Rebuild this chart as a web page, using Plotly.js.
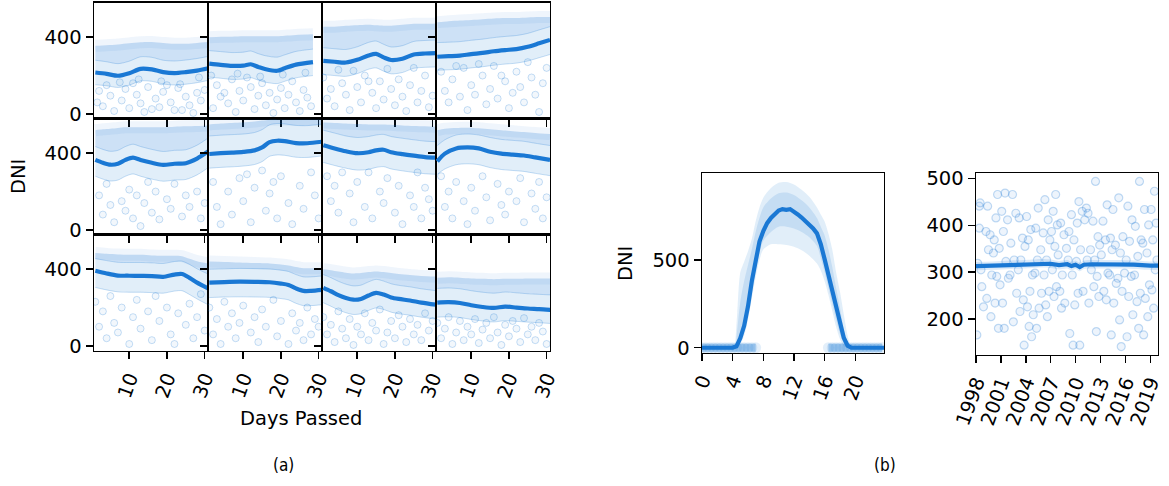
<!DOCTYPE html>
<html><head><meta charset="utf-8">
<script src="https://cdn.plot.ly/plotly-3.0.1.min.js"></script>
<style>html,body{margin:0;padding:0;background:#fff}#chart{width:1169px;height:486px}</style>
</head><body><div id="chart"></div>
<script>
// ---------- Monthly panels (a): day grid, mean, band low/high, dense-cloud top, sparse points ----------
const JAN_D=[1,4,7,10,13,16,19,22,25,28,31];
const JAN_MEAN=[216,209,199,212,235,232,218,213,218,226,238];
const JAN_LO=[152,147,138,150,172,170,156,151,155,163,175];
const JAN_HI=[280,272,262,275,298,295,280,276,281,289,300];
const JAN_TOP=[355,358,362,368,374,375,370,366,366,370,375];
const JAN_PX=[2,3,5,6,8,9,10,12,13,14,15,17,18,19,21,22,23,25,26,27,28,29,30,4,11,20,24,16,1.5,7.5,12.5,18.5,23.5,28.5];
const JAN_PY=[120,40,95,15,70,130,30,100,55,10,140,80,35,115,60,20,135,90,45,5,110,70,125,150,160,150,20,25,60,165,180,170,155,190];

const FEB_D=[1,4,7,10,12,14,16,19,21,24,28.5];
const FEB_MEAN=[262,256,251,252,259,245,233,225,238,257,270];
const FEB_LO=[192,186,180,182,189,176,165,158,170,188,200];
const FEB_HI=[330,325,320,322,328,314,303,296,308,326,338];
const FEB_TOP=[400,402,403,405,405,405,405,405,408,412,415];
const FEB_PX=[2,3,4,6,7,8,9,10,12,13,14,15,16,17,18,19,20,21,22,23,24,25,26,27,28,11,5,1.5,8.5,14.5,20.5,26.5];
const FEB_PY=[30,150,90,55,180,10,120,70,140,25,95,160,45,110,5,75,135,30,100,170,60,15,125,85,40,190,110,200,210,195,205,215];

const MAR_D=[1,4,7,10,13,15,17,19,22,25,28,31];
const MAR_MEAN=[277,272,268,282,305,313,295,281,288,310,315,317];
const MAR_LO=[205,200,196,210,233,240,223,209,216,238,243,245];
const MAR_HI=[345,340,336,350,373,380,363,349,356,378,383,385];
const MAR_TOP=[455,455,460,463,465,462,460,460,465,470,470,472];
const MAR_PX=[1,2,3,4,6,7,8,10,11,12,14,15,16,17,19,20,21,22,23,24,26,27,28,29,30,13,5,9,18,25];
const MAR_PY=[190,80,130,40,160,100,20,140,60,200,110,30,170,75,130,45,180,90,15,150,60,120,200,35,95,170,230,225,235,240];

const APR_D=[1,4,7,10,13,16,19,22,25,28,30.9];
const APR_MEAN=[298,301,304,312,318,327,333,338,350,368,386];
const APR_LO=[228,230,233,240,246,254,260,265,276,293,310];
const APR_HI=[372,374,377,384,390,398,404,409,420,438,455];
const APR_TOP=[478,483,487,490,494,498,500,500,503,505,505];
const APR_PX=[2,3,4,5,7,8,9,10,11,13,14,15,16,17,19,20,21,22,23,24,26,27,28,29,30,18,6,12,25];
const APR_PY=[220,120,60,180,90,240,20,150,100,200,50,130,250,80,170,30,110,220,140,60,190,100,10,160,240,200,250,260,270];

const MAY_D=[1,3,5,7,9,11,13,16,19,22,25,28,31];
const MAY_MEAN=[365,350,340,345,365,377,365,350,339,345,348,372,410];
const MAY_LO=[280,265,255,260,280,292,280,265,254,260,263,287,325];
const MAY_HI=[435,420,410,415,435,447,435,420,409,415,418,442,480];
const MAY_TOP=[520,525,528,532,535,535,535,535,535,538,540,542,545];
const MAY_PX=[2,3,4,5,6,8,9,10,11,12,13,14,15,16,17,18,20,21,22,24,25,26,28,29,30];
const MAY_PY=[180,80,240,130,40,150,100,210,60,180,20,140,250,90,200,55,160,110,240,70,180,120,200,60,140];

const JUN_D=[1,4,7,10,13,15,17,19,21,24,27,30.9];
const JUN_MEAN=[396,400,403,407,415,430,458,465,463,453,452,460];
const JUN_LO=[322,326,329,333,341,356,384,391,389,379,378,386];
const JUN_HI=[490,494,497,500,508,523,548,555,553,545,544,552];
const JUN_TOP=[550,555,558,560,565,570,575,575,575,575,575,575];
const JUN_PX=[2,3,4,6,7,9,10,12,13,15,16,17,19,20,22,23,25,26,28,29,30,11,18];
const JUN_PY=[250,120,30,200,80,270,150,40,220,310,100,190,60,280,140,30,230,110,300,180,60,290,250];

const JUL_D=[1,4,7,10,13,15,17,19,22,25,28,31];
const JUL_MEAN=[442,425,410,400,405,415,418,405,395,387,380,377];
const JUL_LO=[352,336,322,312,316,326,330,318,308,300,293,290];
const JUL_HI=[520,505,490,482,487,495,498,487,478,470,463,460];
const JUL_TOP=[560,558,555,552,550,550,550,548,545,542,540,538];
const JUL_PX=[2,3,4,5,6,8,9,10,12,13,14,16,17,18,20,21,22,24,25,26,27,28,29,30];
const JUL_PY=[280,150,230,90,300,190,40,250,120,300,60,200,140,270,90,230,30,180,120,300,60,220,160,100];

const AUG_D=[1,3,6,9,12,15,18,21,24,27,30.9];
const AUG_MEAN=[358,398,425,430,425,408,398,393,388,378,365];
const AUG_LO=[290,318,340,345,340,325,315,310,305,295,283];
const AUG_HI=[440,470,495,500,495,482,472,467,462,452,440];
const AUG_TOP=[520,528,532,533,530,525,520,515,510,505,500];
const AUG_PX=[2,3,4,5,6,8,9,10,11,13,14,15,17,18,19,20,22,23,24,26,27,28,29,30];
const AUG_PY=[280,120,200,60,250,150,30,220,100,280,170,50,240,130,80,200,150,270,40,190,110,250,60,170];

const SEP_D=[1,4,7,10,13,16,19,22,24,26,28,30.9];
const SEP_MEAN=[392,378,367,366,365,364,360,372,375,355,330,300];
const SEP_LO=[305,292,282,280,280,278,275,286,288,268,245,215];
const SEP_HI=[455,445,436,435,435,433,430,440,442,425,402,375];
const SEP_TOP=[485,480,477,475,475,472,470,470,468,455,442,430];
const SEP_PX=[1,2,3,4,5,6,7,8,10,11,12,13,15,16,17,18,20,21,22,23,25,26,27,28,29,30];
const SEP_PY=[230,100,180,40,260,120,70,200,10,150,240,90,180,30,260,130,200,60,10,170,110,220,40,150,270,80];

const OCT_D=[1,5,9,13,17,20,22,24,26,28,31];
const OCT_MEAN=[330,333,335,334,332,325,318,300,287,287,292];
const OCT_LO=[252,255,256,255,253,247,240,222,210,210,215];
const OCT_HI=[400,402,404,403,401,395,388,372,360,360,365];
const OCT_TOP=[440,438,435,432,430,425,420,412,405,405,405];
const OCT_PX=[1,2,3,4,5,6,7,8,9,10,12,13,14,15,16,18,19,20,22,23,24,25,26,27,28,29,30];
const OCT_PY=[200,60,140,10,230,100,170,40,120,210,70,150,20,190,100,240,50,130,10,170,80,120,30,200,60,140,100];

const NOV_D=[1,3,5,7,9,11,13,15,17,19,21,24,27,30.9];
const NOV_MEAN=[303,285,265,250,241,245,263,277,268,253,245,237,226,215];
const NOV_LO=[225,207,188,173,164,168,185,198,190,176,168,160,150,140];
const NOV_HI=[372,356,337,322,313,317,334,347,338,324,316,308,298,288];
const NOV_TOP=[400,395,388,382,378,380,385,388,385,380,375,370,365,362];
const NOV_PX=[1,2,3,4,5,6,7,8,9,10,11,12,13,14,15,16,17,18,19,20,21,22,23,24,25,26,27,28,29,30];
const NOV_PY=[150,60,110,20,180,90,40,140,5,100,60,170,30,120,80,190,10,70,130,40,160,100,20,140,60,110,30,170,80,130];

const DEC_D=[1,4,7,10,13,16,19,22,25,28,31];
const DEC_MEAN=[226,228,224,212,203,198,205,200,195,192,188];
const DEC_LO=[150,152,148,138,130,125,132,128,124,121,117];
const DEC_HI=[300,302,298,288,280,275,281,277,272,269,266];
const DEC_TOP=[355,358,356,352,350,348,350,350,352,352,352];
const DEC_PX=[1,2,3,4,5,6,7,8,9,10,11,12,13,14,15,16,17,18,19,20,21,22,23,24,25,26,27,28,29,30];
const DEC_PY=[120,40,90,150,10,70,130,30,100,60,140,15,85,120,40,150,70,5,110,50,130,90,20,145,60,100,30,120,75,10];

const MONTH_TICKS_X=[10,20,30];
const MONTH_TICKS_Y=[0,400];

// ---------- Hourly panel (b, left) ----------
const HOURS=[0,0.5,1,1.5,2,2.5,3,3.5,4,4.5,5,5.5,6,6.5,7,7.5,8,8.5,9,9.5,10,10.5,11,11.5,12,12.5,13,13.5,14,14.5,15,15.5,16,16.5,17,17.5,18,18.5,19,19.5,20,20.5,21,21.5,22,22.5,23,23.5,23.75];
const HOUR_MEAN=[0,0,0,0,0,0,0,0,0,8,55,125,235,380,510,605,665,710,740,765,782,790,786,790,778,760,742,722,705,680,652,590,505,415,330,235,140,57,12,0,0,0,0,0,0,0,0,0,0];
const HOUR_CLOUD_H=[4.3,4.6,5,5.5,6,6.5,7,7.5,8,9,10,11,12,13,14,15,15.5,16,16.5,17,17.5,18,18.5,19,19.4];
const HOUR_CLOUD_UP=[0,200,430,490,550,620,720,800,855,910,940,945,930,900,860,800,760,720,650,560,430,320,190,70,0];
const HOUR_CLOUD_LO=[0,0,20,70,160,280,400,500,560,590,590,585,575,555,525,480,440,380,300,210,120,50,10,0,0];
const HOUR_CORE_H=[4.5,5,5.5,6,6.5,7,7.5,8,9,10,11,12,13,14,15,15.5,16,16.5,17,17.5,18,18.5,19];
const HOUR_CORE_UP=[60,260,380,470,560,660,740,800,850,880,885,870,840,800,740,690,640,560,460,340,230,110,20];
const HOUR_CORE_LO=[0,30,90,190,310,440,540,610,660,690,690,680,660,630,580,510,430,340,250,160,80,25,0];
const HOUR_ZERO_AM=[0,0.5,1,1.5,2,2.5,3,3.5,4,4.5,5,5.5,6,6.5,7];
const HOUR_ZERO_PM=[16.5,17,17.5,18,18.5,19,19.5,20,20.5,21,21.5,22,22.5,23,23.5];
const HOUR_TICKS=[0,4,8,12,16,20];

// ---------- Yearly panel (b, right) ----------
const YEAR_LINE_X=[1998,2000,2002,2004,2006,2007,2008,2009,2009.5,2010,2010.5,2011,2012,2013,2015,2017,2019,2020];
const YEAR_MEAN=[313,314,316,317,319,318,315,317,313,316,311,316,317,317,317,316,314,314];
const YEAR_LO=[304,305,307,308,310,309,306,308,304,307,302,307,308,308,308,307,305,305];
const YEAR_HI=[322,323,325,326,328,327,324,326,322,325,320,325,326,326,326,325,323,323];
const YEAR_PX=[1998.5,1998.4,1998.4,1998.2,1998.6,1998.7,1998.9,1998.1,
1999.4,1999.2,1999.7,1999.5,1999.9,1999.3,1999.8,
2000.6,2000.4,2000.2,2000.8,2000.1,2000.5,2000.9,2000.3,2000.7,
2001.5,2001.1,2001.8,2001.3,2001.6,2001.9,2001.2,2001.4,
2002.4,2002.8,2002.2,2002.6,2002.1,2002.9,2002.5,
2003.2,2003.6,2003.9,2003.4,2003.1,2003.7,2003.3,2003.8,
2004.1,2004.6,2004.3,2004.8,2004.5,2004.2,2004.9,2004.4,2004.7,
2005.5,2005.2,2005.8,2005.4,2005.1,2005.9,2005.6,2005.3,
2006.3,2006.7,2006.1,2006.9,2006.5,2006.2,2006.8,2006.4,2006.6,
2007.6,2007.3,2007.8,2007.1,2007.5,2007.9,2007.2,2007.7,2007.4,
2008.2,2008.6,2008.9,2008.4,2008.1,2008.7,2008.3,
2009.5,2009.2,2009.8,2009.1,2009.6,2009.9,2009.3,2009.7,
2010.4,2010.8,2010.2,2010.6,2010.1,2010.9,2010.3,2010.5,
2011.3,2011.5,2011.1,2011.8,2011.4,2011.9,2011.6,
2012.4,2012.1,2012.7,2012.9,2012.3,2012.6,2012.2,2012.8,2012.5,
2013.8,2013.3,2013.6,2013.1,2013.9,2013.4,2013.7,
2014.5,2014.2,2014.8,2014.4,2014.1,2014.9,2014.6,2014.3,
2015.2,2015.7,2015.4,2015.9,2015.1,2015.6,2015.3,2015.5,
2016.3,2016.8,2016.5,2016.1,2016.7,2016.4,2016.9,2016.2,
2017.7,2017.2,2017.9,2017.5,2017.1,2017.8,2017.4,2017.6,
2018.3,2018.8,2018.1,2018.6,2018.9,2018.4,2018.7,2018.2,
2019.5,2019.1,2019.7,2019.3,2019.8,2019.6,2019.2,2019.4];
const YEAR_PY=[448,441,394,319,305,269,226,166,
441,387,380,348,294,244,205,
466,416,369,351,341,291,273,234,180,
469,430,412,387,323,287,234,180,
466,426,362,326,294,255,194,
416,373,355,326,305,241,216,144,
419,391,369,294,259,226,209,184,162,
437,394,348,326,298,255,223,180,
455,412,384,369,326,294,259,230,205,
466,430,401,387,355,337,305,269,248,
405,380,351,294,259,234,223,
423,387,369,326,294,230,169,144,
451,430,405,348,323,259,255,144,
437,426,412,348,326,305,234,
494,409,376,358,326,291,269,248,173,
444,409,369,337,298,259,241,
434,373,358,348,294,276,234,166,
459,376,341,298,287,259,198,141,
441,412,366,326,291,248,209,162,
494,398,369,334,294,255,237,180,
434,401,362,341,273,244,205,166,
473,434,405,369,326,305,262,223];
const YEAR_TICKS=[1998,2001,2004,2007,2010,2013,2016,2019];

// ---------- build ----------
const MONTHS=[
 [JAN_D,JAN_MEAN,JAN_LO,JAN_HI,JAN_TOP,JAN_PX,JAN_PY],
 [FEB_D,FEB_MEAN,FEB_LO,FEB_HI,FEB_TOP,FEB_PX,FEB_PY],
 [MAR_D,MAR_MEAN,MAR_LO,MAR_HI,MAR_TOP,MAR_PX,MAR_PY],
 [APR_D,APR_MEAN,APR_LO,APR_HI,APR_TOP,APR_PX,APR_PY],
 [MAY_D,MAY_MEAN,MAY_LO,MAY_HI,MAY_TOP,MAY_PX,MAY_PY],
 [JUN_D,JUN_MEAN,JUN_LO,JUN_HI,JUN_TOP,JUN_PX,JUN_PY],
 [JUL_D,JUL_MEAN,JUL_LO,JUL_HI,JUL_TOP,JUL_PX,JUL_PY],
 [AUG_D,AUG_MEAN,AUG_LO,AUG_HI,AUG_TOP,AUG_PX,AUG_PY],
 [SEP_D,SEP_MEAN,SEP_LO,SEP_HI,SEP_TOP,SEP_PX,SEP_PY],
 [OCT_D,OCT_MEAN,OCT_LO,OCT_HI,OCT_TOP,OCT_PX,OCT_PY],
 [NOV_D,NOV_MEAN,NOV_LO,NOV_HI,NOV_TOP,NOV_PX,NOV_PY],
 [DEC_D,DEC_MEAN,DEC_LO,DEC_HI,DEC_TOP,DEC_PX,DEC_PY]
];

const W=1169,H=486;
const BLUE='#1a78d4';
const RG=a=>'rgba(26,120,212,'+a+')';
const FONT={family:'DejaVu Sans, Liberation Sans, sans-serif',size:19.5,color:'#000'};
const px=v=>v/W, py=v=>1-v/H;

const traces=[];
const layout={width:W,height:H,margin:{l:0,r:0,t:0,b:0},showlegend:false,
  paper_bgcolor:'#fff',plot_bgcolor:'#fff',font:FONT,annotations:[]};

function axis(dom,range,tickvals,showlabels,extra){
  return Object.assign({domain:dom,range:range,tickvals:tickvals,showticklabels:showlabels,
    ticks:'outside',ticklen:7,tickwidth:1.5,tickcolor:'#000',showline:true,linecolor:'#000',
    linewidth:1.4,mirror:true,showgrid:false,zeroline:false,tickfont:FONT,fixedrange:true,automargin:false},extra||{});
}
function addBand(xa,ya,xs,lo,hi,fill,edge){
  traces.push({x:xs,y:lo,xaxis:xa,yaxis:ya,mode:'lines',line:{width:edge?1:0,color:edge||'rgba(0,0,0,0)',shape:'spline',smoothing:0.8},hoverinfo:'skip'});
  traces.push({x:xs,y:hi,xaxis:xa,yaxis:ya,mode:'lines',fill:'tonexty',fillcolor:fill,line:{width:edge?1:0,color:edge||'rgba(0,0,0,0)',shape:'spline',smoothing:0.8},hoverinfo:'skip'});
}
const PT={size:7,color:RG(0.06),line:{color:RG(0.24),width:1}};

const colX=[94,208,322,436,550];
const rowY=[2.7,118.7,234.7,350.7];
MONTHS.forEach((m,i)=>{
  const r=Math.floor(i/4), c=i%4, n=i+1;
  const xa='x'+(n===1?'':n), ya='y'+(n===1?'':n);
  const [D,MEAN,LO,HI,TOP,PXs,PYs]=m;
  addBand(xa,ya,D,HI,TOP,RG(0.22),null);
  // soft fuzzy fringe along the top of the dense cloud
  traces.push({x:D,y:TOP,xaxis:xa,yaxis:ya,mode:'lines',line:{color:RG(0.07),width:12,shape:'spline',smoothing:0.8},hoverinfo:'skip'});
  addBand(xa,ya,D,LO,HI,RG(0.13),RG(0.24));
  traces.push({x:PXs,y:PYs,xaxis:xa,yaxis:ya,mode:'markers',marker:PT,hoverinfo:'skip'});
  traces.push({x:D,y:MEAN,xaxis:xa,yaxis:ya,mode:'lines',line:{color:BLUE,width:4.2,shape:'spline',smoothing:0.8}});
  layout['xaxis'+(n===1?'':n)]=axis([px(colX[c]),px(colX[c+1])],[0.65,30.9],MONTH_TICKS_X,r===2,{anchor:ya,tickangle:-70});
  layout['yaxis'+(n===1?'':n)]=axis([py(rowY[r+1]),py(rowY[r])],[-25,580],MONTH_TICKS_Y,c===0,{anchor:xa});
});

// hourly (axis 13)
addBand('x13','y13',HOUR_CLOUD_H,HOUR_CLOUD_LO,HOUR_CLOUD_UP,RG(0.13),null);
addBand('x13','y13',HOUR_CORE_H,HOUR_CORE_LO,HOUR_CORE_UP,RG(0.14),null);
[HOUR_ZERO_AM,HOUR_ZERO_PM].forEach(zx=>{
  traces.push({x:zx,y:zx.map(()=>0),xaxis:'x13',yaxis:'y13',mode:'lines+markers',
    line:{color:RG(0.3),width:8},marker:{size:11,color:RG(0.12),line:{width:0}},hoverinfo:'skip'});
});
traces.push({x:HOURS,y:HOUR_MEAN,xaxis:'x13',yaxis:'y13',mode:'lines',line:{color:BLUE,width:4.2}});
layout.xaxis13=axis([px(702),px(884)],[0,23.75],HOUR_TICKS,true,{anchor:'y13',tickangle:-70});
layout.yaxis13=axis([py(353),py(173)],[-30,996],[0,500],true,{anchor:'x13'});

// yearly (axis 14)
traces.push({x:YEAR_PX,y:YEAR_PY,xaxis:'x14',yaxis:'y14',mode:'markers',marker:{size:8,color:RG(0.08),line:{color:RG(0.26),width:1.2}},hoverinfo:'skip'});
addBand('x14','y14',YEAR_LINE_X,YEAR_LO,YEAR_HI,RG(0.15),null);
traces.push({x:YEAR_LINE_X,y:YEAR_MEAN,xaxis:'x14',yaxis:'y14',mode:'lines',line:{color:BLUE,width:4.2}});
layout.xaxis14=axis([px(976),px(1158)],[1998,2019.93],YEAR_TICKS,true,{anchor:'y14',tickangle:-70});
layout.yaxis14=axis([py(355),py(173)],[123,512],[200,300,400,500],true,{anchor:'x14'});

function ann(text,x,y,opts){
  layout.annotations.push(Object.assign({text:text,xref:'paper',yref:'paper',x:px(x),y:py(y),
    xanchor:'center',yanchor:'middle',showarrow:false,font:FONT},opts||{}));
}
ann('DNI',18,177,{textangle:-90});
ann('DNI',625,264,{textangle:-90});
ann('Days Passed',301,418);
ann('(a)',283,465,{font:{family:'Liberation Sans Narrow, DejaVu Sans Condensed, DejaVu Sans',size:17,color:'#000'}});
ann('(b)',885,465,{font:{family:'Liberation Sans Narrow, DejaVu Sans Condensed, DejaVu Sans',size:17,color:'#000'}});

Plotly.newPlot('chart',traces,layout,{staticPlot:true,displayModeBar:false});
</script>
</body></html>
